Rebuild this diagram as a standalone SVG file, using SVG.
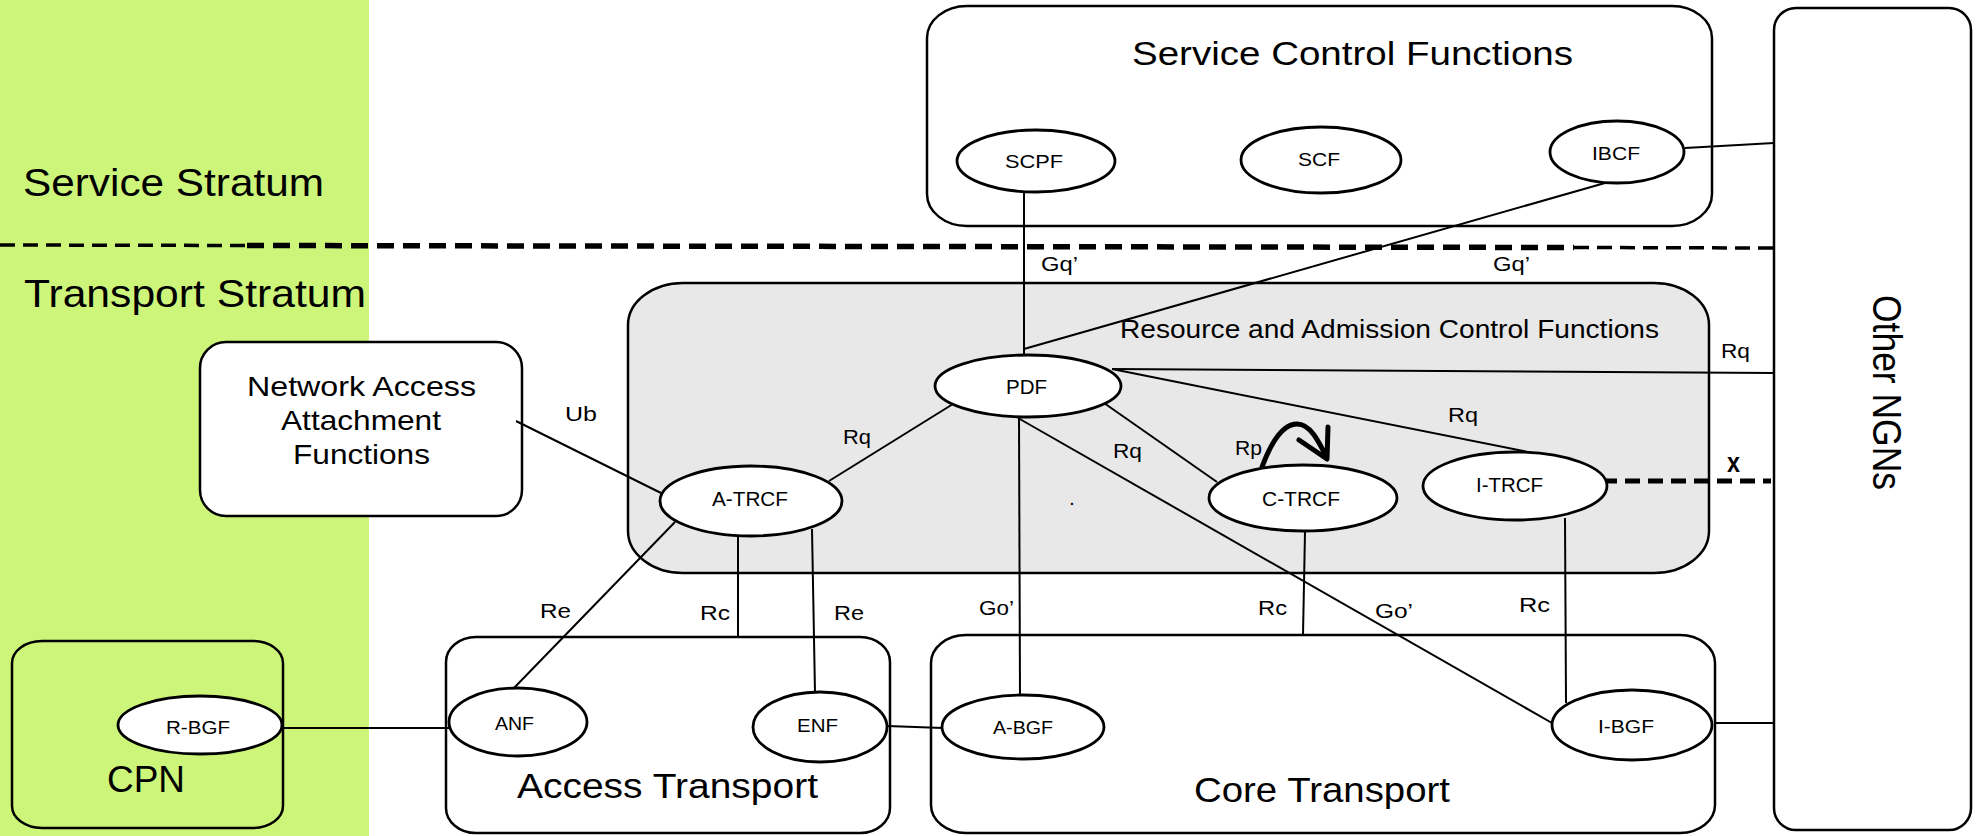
<svg xmlns="http://www.w3.org/2000/svg" width="1979" height="836" viewBox="0 0 1979 836">
<style>
.box{fill:#ffffff;stroke:#000;stroke-width:2.5}
.gbox{fill:none;stroke:#000;stroke-width:2.5}
.racf{fill:#e8e8e8;stroke:#000;stroke-width:2.5}
.el{fill:#ffffff;stroke:#000;stroke-width:2.8}
.ln{fill:none;stroke:#000;stroke-width:2}
.t{font-family:"Liberation Sans",Arial,Helvetica,sans-serif;fill:#000}
.big{font-size:39px}
.nl{font-size:19px}
.il{font-size:21px}
.thin{fill:none;stroke:#000;stroke-width:3.5;stroke-dasharray:15 8}
.thick{fill:none;stroke:#000;stroke-width:5.5;stroke-dasharray:17 9}
</style>

<rect x="0" y="0" width="1979" height="836" fill="#ffffff"/>
<rect x="0" y="0" width="369" height="836" fill="#ccf57a"/>

<g id="strata">
  <text class="t big" x="23" y="196" textLength="301" lengthAdjust="spacingAndGlyphs">Service Stratum</text>
  <text class="t big" x="24" y="307" textLength="342" lengthAdjust="spacingAndGlyphs">Transport Stratum</text>
  <path class="thin" d="M0,245 L247,245.5"/>
  <path class="thick" d="M247,245.5 L1574,247.5"/>
  <path class="thin" d="M1574,247.5 L1774,248"/>
</g>

<g id="service-control-functions">
  <rect class="box" x="927" y="6" width="785" height="220" rx="40" ry="32"/>
  <text class="t" font-size="32.5" x="1132" y="65" textLength="441" lengthAdjust="spacingAndGlyphs">Service Control Functions</text>
</g>

<g id="racf">
  <rect class="racf" x="628" y="283" width="1081" height="290" rx="55" ry="42"/>
  <text class="t" font-size="25" x="1120" y="338" textLength="539" lengthAdjust="spacingAndGlyphs">Resource and Admission Control Functions</text>
  <text class="t il" x="1069" y="505">.</text>
</g>

<g id="naaf">
  <rect class="box" x="200" y="342" width="322" height="174" rx="26" ry="26"/>
  <text class="t" font-size="28.5" x="247" y="396" textLength="229" lengthAdjust="spacingAndGlyphs">Network Access</text>
  <text class="t" font-size="28.5" x="281" y="430" textLength="160" lengthAdjust="spacingAndGlyphs">Attachment</text>
  <text class="t" font-size="28.5" x="293" y="464" textLength="137" lengthAdjust="spacingAndGlyphs">Functions</text>
</g>

<g id="cpn">
  <rect class="gbox" x="12" y="641" width="271" height="187" rx="30" ry="22"/>
  <text class="t" font-size="36" x="107" y="792" textLength="78" lengthAdjust="spacingAndGlyphs">CPN</text>
</g>

<g id="access-transport">
  <rect class="box" x="446" y="637" width="444" height="196" rx="30" ry="25"/>
  <text class="t" font-size="35" x="517" y="798" textLength="301" lengthAdjust="spacingAndGlyphs">Access Transport</text>
</g>

<g id="core-transport">
  <rect class="box" x="931" y="635" width="784" height="198" rx="35" ry="28"/>
  <text class="t" font-size="35" x="1194" y="802" textLength="256" lengthAdjust="spacingAndGlyphs">Core Transport</text>
</g>

<g id="other-ngns">
  <rect class="box" x="1774" y="8" width="197" height="822" rx="22" ry="22"/>
  <text class="t" font-size="40" transform="translate(1873,295) rotate(90)" x="0" y="0" textLength="195" lengthAdjust="spacingAndGlyphs">Other NGNs</text>
</g>

<g id="connectors">
  <path class="ln" d="M1024,192 L1024,354"/>
  <path class="ln" d="M1605,183 L1024,349"/>
  <path class="ln" d="M1685,148 L1774,143"/>
  <path class="ln" d="M1112,369 L1774,373"/>
  <path class="ln" d="M1112,369 L1533,453"/>
  <path class="ln" d="M1104,403 L1217,482"/>
  <path class="ln" d="M1018,418 L1552,723"/>
  <path class="ln" d="M1019,418 L1020,696"/>
  <path class="ln" d="M829,481 L953,404"/>
  <path class="ln" d="M516,421 L661,493"/>
  <path class="ln" d="M675,522 L513,689"/>
  <path class="ln" d="M738,537 L738,637"/>
  <path class="ln" d="M812,529 L815,693"/>
  <path class="ln" d="M282,728 L449,728"/>
  <path class="ln" d="M887,726 L943,728"/>
  <path class="ln" d="M1305,532 L1303,635"/>
  <path class="ln" d="M1565,518 L1566,703"/>
  <path class="ln" d="M1714,723 L1774,723"/>
  <path fill="none" stroke="#000" stroke-width="5" stroke-dasharray="15 8" d="M1602,481 L1771,481"/>
  <path fill="none" stroke="#000" stroke-width="5" stroke-linecap="round" stroke-linejoin="round" d="M1262,467 C1272,440 1284,424 1297,424 C1310,424 1318,440 1327,458 M1299,440 L1327,459 L1328,427"/>
  <g class="t il">
    <text x="1041" y="271" textLength="37" lengthAdjust="spacingAndGlyphs">Gq’</text>
    <text x="1493" y="271" textLength="37" lengthAdjust="spacingAndGlyphs">Gq’</text>
    <text x="843" y="444" textLength="28" lengthAdjust="spacingAndGlyphs">Rq</text>
    <text x="1113" y="458" textLength="29" lengthAdjust="spacingAndGlyphs">Rq</text>
    <text x="1448" y="422" textLength="30" lengthAdjust="spacingAndGlyphs">Rq</text>
    <text x="1721" y="358" textLength="29" lengthAdjust="spacingAndGlyphs">Rq</text>
    <text x="1235" y="455" textLength="27" lengthAdjust="spacingAndGlyphs">Rp</text>
    <text x="565" y="421" textLength="32" lengthAdjust="spacingAndGlyphs">Ub</text>
    <text x="540" y="618" textLength="31" lengthAdjust="spacingAndGlyphs">Re</text>
    <text x="700" y="620" textLength="30" lengthAdjust="spacingAndGlyphs">Rc</text>
    <text x="834" y="620" textLength="30" lengthAdjust="spacingAndGlyphs">Re</text>
    <text x="979" y="615" textLength="35" lengthAdjust="spacingAndGlyphs">Go’</text>
    <text x="1258" y="615" textLength="29" lengthAdjust="spacingAndGlyphs">Rc</text>
    <text x="1375" y="618" textLength="38" lengthAdjust="spacingAndGlyphs">Go’</text>
    <text x="1519" y="612" textLength="31" lengthAdjust="spacingAndGlyphs">Rc</text>
    <text x="1727" y="472" font-size="27" font-weight="bold" textLength="13" lengthAdjust="spacingAndGlyphs">x</text>
  </g>
</g>

<g id="scpf"><ellipse class="el" cx="1036" cy="161" rx="79" ry="31"/><text class="t nl" x="1005" y="168" textLength="58" lengthAdjust="spacingAndGlyphs">SCPF</text></g>
<g id="scf"><ellipse class="el" cx="1321" cy="160" rx="80" ry="33"/><text class="t nl" x="1298" y="166" textLength="42" lengthAdjust="spacingAndGlyphs">SCF</text></g>
<g id="ibcf"><ellipse class="el" cx="1617" cy="152" rx="67" ry="31"/><text class="t nl" x="1592" y="160" textLength="48" lengthAdjust="spacingAndGlyphs">IBCF</text></g>
<g id="pdf"><ellipse class="el" cx="1028" cy="386" rx="93" ry="31"/><text class="t il" x="1006" y="394" textLength="41" lengthAdjust="spacingAndGlyphs">PDF</text></g>
<g id="a-trcf"><ellipse class="el" cx="751" cy="501" rx="91" ry="35"/><text class="t" font-size="20" x="712" y="506" textLength="76" lengthAdjust="spacingAndGlyphs">A-TRCF</text></g>
<g id="c-trcf"><ellipse class="el" cx="1303" cy="498" rx="94" ry="33"/><text class="t il" x="1262" y="506" textLength="78" lengthAdjust="spacingAndGlyphs">C-TRCF</text></g>
<g id="i-trcf"><ellipse class="el" cx="1515" cy="486" rx="92" ry="34"/><text class="t" font-size="20" x="1476" y="492" textLength="67" lengthAdjust="spacingAndGlyphs">I-TRCF</text></g>
<g id="r-bgf"><ellipse class="el" cx="200" cy="725" rx="82" ry="29"/><text class="t nl" x="166" y="734" textLength="64" lengthAdjust="spacingAndGlyphs">R-BGF</text></g>
<g id="anf"><ellipse class="el" cx="518" cy="722" rx="69" ry="34"/><text class="t nl" x="495" y="730" textLength="39" lengthAdjust="spacingAndGlyphs">ANF</text></g>
<g id="enf"><ellipse class="el" cx="820" cy="727" rx="67" ry="35"/><text class="t nl" x="797" y="732" textLength="41" lengthAdjust="spacingAndGlyphs">ENF</text></g>
<g id="a-bgf"><ellipse class="el" cx="1023" cy="727" rx="81" ry="32"/><text class="t nl" x="993" y="734" textLength="60" lengthAdjust="spacingAndGlyphs">A-BGF</text></g>
<g id="i-bgf"><ellipse class="el" cx="1632" cy="725" rx="80" ry="35"/><text class="t nl" x="1598" y="733" textLength="56" lengthAdjust="spacingAndGlyphs">I-BGF</text></g>
</svg>
